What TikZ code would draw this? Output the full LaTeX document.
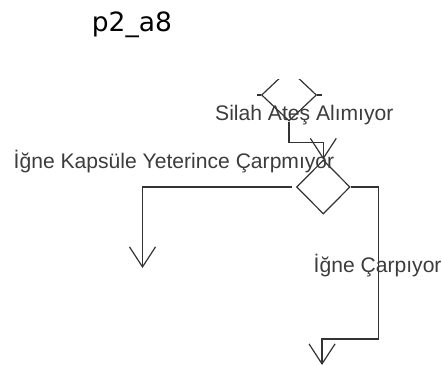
\documentclass[tikz,border=0pt]{standalone}
\usepackage{fontspec}
\setmainfont{Liberation Sans}
\newfontfamily\titlefont{DejaVu Sans}
\usetikzlibrary{shapes.geometric,arrows.meta}
\definecolor{lineC}{HTML}{333333}
\definecolor{textC}{HTML}{3C3C3C}
\tikzset{
  dec/.style={diamond, draw=lineC, line width=1.2pt, inner sep=0pt, minimum width=#1},
  conn/.style={draw=lineC, line width=1.2pt},
  arr/.style={conn, -{Straight Barb[length=20pt,width=26pt,line width=1.2pt]}},
  lbl/.style={anchor=base west, inner sep=0pt, text=textC, font=\fontsize{21.1}{24}\selectfont},
}
\begin{document}
\begin{tikzpicture}[x=1pt,y=-1pt]
\useasboundingbox (0,0) rectangle (443,364);
\node[anchor=base west, inner sep=0pt, font=\titlefont\fontsize{26.5}{30}\selectfont] (title) at (91.7,31.7) {p2\_a8};
\begin{scope}
  \clip (0,79) rectangle (443,364);
  \node[dec=55pt, minimum height=52pt] (d1) at (289,95) {};
\end{scope}
\node[dec=53.5pt, minimum height=54pt] (d2) at (323.3,187) {};
\coordinate (t1) at (142.5,268);
\coordinate (t2) at (322,365);
\draw[conn] (d1.west) -- ++(-4,0);
\draw[conn] (d1.east) -- ++(5,0);
\draw[arr] (d1.south) |- ++(34.3,21) -- (d2.north);
\draw[arr] ([xshift=-4pt]d2.west) -| (t1);
\draw[arr] (d2.east) -- ++(28,0) |- (322,339) -- (t2);
\node[lbl] (l1) at (215,120.5) {Silah Ateş Alımıyor};
\node[lbl] (l2) at (13.5,168.5) {İğne Kapsüle Yeterince Çarpmıyor};
\node[lbl] (l3) at (313.5,272.5) {İğne Çarpıyor};
\end{tikzpicture}
\end{document}
